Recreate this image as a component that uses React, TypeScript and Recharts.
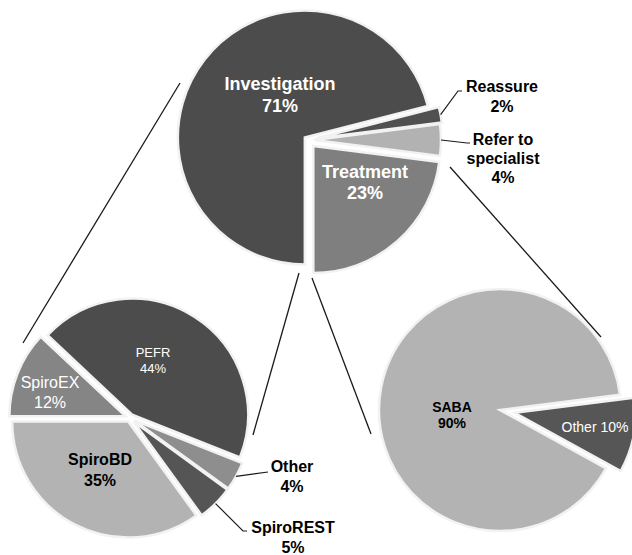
import React from "react";
import { PieChart, Pie, Cell, Sector } from "recharts";

// top pie: what GPs did
const topNames = ["Investigation", "Reassure", "Refer to\nspecialist", "Treatment"];
const topValues = [71, 2, 4, 23];

// bottom-left: investigation breakdown
const invNames = ["SpiroEX", "PEFR", "Other", "SpiroREST", "SpiroBD"];
const invValues = [12, 44, 4, 5, 35];

// bottom-right: treatment breakdown
const treatNames = ["SABA", "Other"];
const treatValues = [90, 10];

const FONT = '"Liberation Sans", Arial, sans-serif';

type SliceStyle = {
  fill: string;
  explode: number;
  lx: number; // label centre relative to pie centre
  ly: number;
  color: string;
  size: number;
  bold: boolean;
  lh: number;
  inline?: boolean;
  leader?: number[]; // elbow / end points relative to pie centre
};

const topStyle: SliceStyle[] = [
  { fill: "#4c4c4c", explode: 4, lx: -28, ly: -45, color: "#fff", size: 18, bold: true, lh: 22 },
  { fill: "#505050", explode: 8, lx: 194, ly: -44, color: "#000", size: 16, bold: true, lh: 20, leader: [150, -49, 154, -49] },
  { fill: "#b2b2b2", explode: 6, lx: 195, ly: 18, color: "#000", size: 16, bold: true, lh: 19, leader: [159, 3, 162, 3] },
  { fill: "#7f7f7f", explode: 8, lx: 57, ly: 42, color: "#fff", size: 18, bold: true, lh: 21 },
];

const invStyle: SliceStyle[] = [
  { fill: "#858585", explode: 5, lx: -80, ly: -26, color: "#fff", size: 16, bold: false, lh: 20 },
  { fill: "#4c4c4c", explode: 4, lx: 23, ly: -58, color: "#fff", size: 13, bold: false, lh: 16 },
  { fill: "#8e8e8e", explode: 5, lx: 162, ly: 58, color: "#000", size: 16, bold: true, lh: 20, leader: [138, 54] },
  { fill: "#555555", explode: 5, lx: 163, ly: 119, color: "#000", size: 16, bold: true, lh: 20, leader: [113, 113, 117, 113] },
  { fill: "#b3b3b3", explode: 4, lx: -30, ly: 52, color: "#000", size: 16, bold: true, lh: 21 },
];

const treatStyle: SliceStyle[] = [
  { fill: "#b3b3b3", explode: 0, lx: -48, ly: 5, color: "#000", size: 14, bold: true, lh: 16 },
  { fill: "#565656", explode: 15, lx: 95, ly: 17, color: "#fff", size: 14, bold: false, lh: 16, inline: true },
];

// lines joining the top pie to the two breakdown pies
const connectors = [
  [180, 83, 23, 343],
  [299, 273, 253, 435],
  [312, 278, 371, 434],
  [450, 167, 601, 337],
];

const RAD = Math.PI / 180;

function makeShape(styles: SliceStyle[]) {
  return (props: any) => {
    const st = styles[props.index] ?? styles[0];
    const a = props.midAngle * RAD;
    const dx = st.explode * Math.cos(a);
    const dy = -st.explode * Math.sin(a);
    return <Sector {...props} cx={props.cx + dx} cy={props.cy + dy} />;
  };
}

function makeLabel(styles: SliceStyle[], names: string[], values: number[]) {
  return (props: any) => {
    const { cx, cy, midAngle, outerRadius, index } = props;
    const st = styles[index];
    const name = names[index];
    const lines = st.inline ? [`${name} ${values[index]}%`] : [...name.split("\n"), `${values[index]}%`];
    const x = cx + st.lx;
    const y0 = cy + st.ly - ((lines.length - 1) * st.lh) / 2;
    let leader = null;
    if (st.leader) {
      const a = midAngle * RAD;
      const r = outerRadius + st.explode;
      const pts = [[cx + r * Math.cos(a), cy - r * Math.sin(a)]];
      for (let i = 0; i < st.leader.length; i += 2) pts.push([cx + st.leader[i], cy + st.leader[i + 1]]);
      leader = (
        <polyline
          points={pts.map((p) => p.join(",")).join(" ")}
          fill="none"
          stroke="#1a1a1a"
          strokeWidth={1.2}
        />
      );
    }
    return (
      <g key={`lab-${index}`}>
        {leader}
        {lines.map((t, i) => (
          <text
            key={i}
            x={x}
            y={y0 + i * st.lh}
            dy="0.35em"
            textAnchor="middle"
            fill={st.color}
            fontSize={st.size}
            fontWeight={st.bold ? "bold" : "normal"}
            fontFamily={FONT}
          >
            {t}
          </text>
        ))}
      </g>
    );
  };
}

const toData = (names: string[], values: number[]) =>
  names.map((name, i) => ({ name, value: values[i] }));

export default function App() {
  const topData = toData(topNames, topValues);
  const invData = toData(invNames, invValues);
  const treatData = toData(treatNames, treatValues);

  return (
    <div style={{ position: "absolute", left: 0, top: 0, width: 632, height: 555, background: "#fff" }}>
      <svg width={632} height={555} style={{ position: "absolute", left: 0, top: 0 }}>
        {connectors.map((c, i) => (
          <line key={i} x1={c[0]} y1={c[1]} x2={c[2]} y2={c[3]} stroke="#1a1a1a" strokeWidth={1.3} />
        ))}
      </svg>
      <div style={{ position: "absolute", left: 0, top: 0 }}>
        <PieChart width={632} height={555} margin={{ top: 0, right: 0, bottom: 0, left: 0 }}>
          <Pie
            data={topData}
            dataKey="value"
            nameKey="name"
            cx={308}
            cy={140}
            outerRadius={127}
            startAngle={270}
            endAngle={-90}
            stroke="#f2f2f2"
            strokeWidth={2.5}
            shape={makeShape(topStyle)}
            label={makeLabel(topStyle, topNames, topValues)}
            labelLine={false}
            isAnimationActive={false}
          >
            {topData.map((d, i) => (
              <Cell key={d.name} fill={topStyle[i].fill} />
            ))}
          </Pie>
          <Pie
            data={invData}
            dataKey="value"
            nameKey="name"
            cx={130}
            cy={418}
            outerRadius={116}
            startAngle={180}
            endAngle={-180}
            stroke="#f2f2f2"
            strokeWidth={2.5}
            shape={makeShape(invStyle)}
            label={makeLabel(invStyle, invNames, invValues)}
            labelLine={false}
            isAnimationActive={false}
          >
            {invData.map((d, i) => (
              <Cell key={d.name} fill={invStyle[i].fill} />
            ))}
          </Pie>
          <Pie
            data={treatData}
            dataKey="value"
            nameKey="name"
            cx={500}
            cy={410}
            outerRadius={121}
            startAngle={7.2}
            endAngle={367.2}
            stroke="#f2f2f2"
            strokeWidth={2.5}
            shape={makeShape(treatStyle)}
            label={makeLabel(treatStyle, treatNames, treatValues)}
            labelLine={false}
            isAnimationActive={false}
          >
            {treatData.map((d, i) => (
              <Cell key={d.name} fill={treatStyle[i].fill} />
            ))}
          </Pie>
        </PieChart>
      </div>
    </div>
  );
}
